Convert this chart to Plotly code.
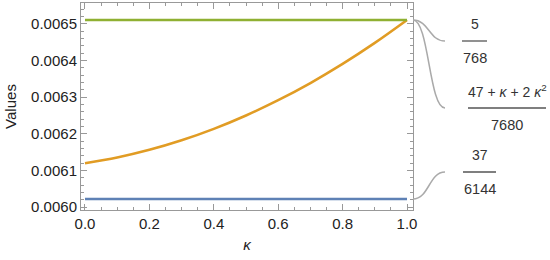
import plotly.graph_objects as go

# data
kappa = [0.0, 0.1, 0.2, 0.3, 0.4, 0.5, 0.6, 0.7, 0.8, 0.9, 1.0]
orange_vals = [0.0061198, 0.0061354, 0.0061563, 0.0061823, 0.0062135, 0.0062500,
               0.0062917, 0.0063385, 0.0063906, 0.0064479, 0.0065104]
green_vals = [0.0065104] * len(kappa)
blue_vals = [0.0060221] * len(kappa)

callout_nums = ["5", "47 + <i>κ</i> + 2 <i>κ</i><sup>2</sup>", "37"]
callout_dens = ["768", "7680", "6144"]
callout_vals = [green_vals[-1], orange_vals[-1], blue_vals[-1]]

XR = [-0.0124, 1.0186]
YR = [0.0059921, 0.0065568]
W, H = 550, 260
ML, MR, MT, MB = 81, 137, 3, 50
PW, PH = W - ML - MR, H - MT - MB


def px(p):
    return (p - ML) / PW


def py(p):
    return 1 - (p - MT) / PH


def vy(v):
    return (v - YR[0]) / (YR[1] - YR[0])


fig = go.Figure()
for vals, col in [(blue_vals, "#5E81B5"), (orange_vals, "#E19C24"), (green_vals, "#8FB032")]:
    fig.add_trace(go.Scatter(x=kappa, y=vals, mode="lines",
                             line=dict(color=col, width=2.6, shape="spline"),
                             showlegend=False, hoverinfo="skip"))

# callouts: label positions in pixels (y of bar, bar x0, bar x1)
label_pos = [(41, 462, 487), (108, 468, 546), (172, 463, 496)]
shapes = []
annots = []
for v, (ybar, bx0, bx1), num, den in zip(callout_vals, label_pos, callout_nums, callout_dens):
    x0, y0 = px(413), vy(v)
    x1, y1 = px(445), py(ybar)
    cx = (x0 + x1) / 2
    shapes.append(dict(type="path", xref="paper", yref="paper",
                       path=f"M {x0},{y0} C {cx},{y0} {cx},{y1} {x1},{y1}",
                       line=dict(color="#AAAAAA", width=1.5)))
    shapes.append(dict(type="line", xref="paper", yref="paper",
                       x0=px(bx0), x1=px(bx1), y0=y1, y1=y1,
                       line=dict(color="#555555", width=1.3)))
    xc = px((bx0 + bx1) / 2)
    annots.append(dict(x=xc, y=py(ybar - 17), xref="paper", yref="paper",
                       xanchor="center", yanchor="middle",
                       text=num, showarrow=False,
                       font=dict(size=14, color="#333333")))
    annots.append(dict(x=xc, y=py(ybar + 17), xref="paper", yref="paper",
                       xanchor="center", yanchor="middle",
                       text=den, showarrow=False,
                       font=dict(size=14.5, color="#333333")))

axis_common = dict(showline=True, linecolor="#999999", linewidth=1, mirror="allticks",
                   ticks="inside", ticklen=6, tickcolor="#999999", showgrid=False,
                   zeroline=False, automargin=False,
                   tickfont=dict(family="Liberation Sans", size=15, color="#222222"))

fig.update_layout(
    width=W, height=H,
    margin=dict(l=ML, r=MR, t=MT, b=MB, autoexpand=False),
    paper_bgcolor="white", plot_bgcolor="white",
    font=dict(family="Liberation Sans", color="#222222"),
    xaxis=dict(range=XR, tick0=0, dtick=0.2, tickformat=".1f",
               minor=dict(dtick=0.05, ticks="inside", ticklen=3, tickcolor="#999999"),
               title=dict(text="<i>κ</i>", font=dict(size=15), standoff=8),
               **axis_common),
    yaxis=dict(range=YR, tick0=0.006, dtick=0.0001, tickformat=".4f",
               minor=dict(dtick=0.00002, ticks="inside", ticklen=3, tickcolor="#999999"),
               title=dict(text="Values", font=dict(size=15), standoff=10),
               **axis_common),
    shapes=shapes,
    annotations=annots,
)

# the default page has an 8px body margin, which pushes the figure off the window
fig.write_html("out.html", config={"displayModeBar": False},
               post_script="document.body.style.margin='0';")
